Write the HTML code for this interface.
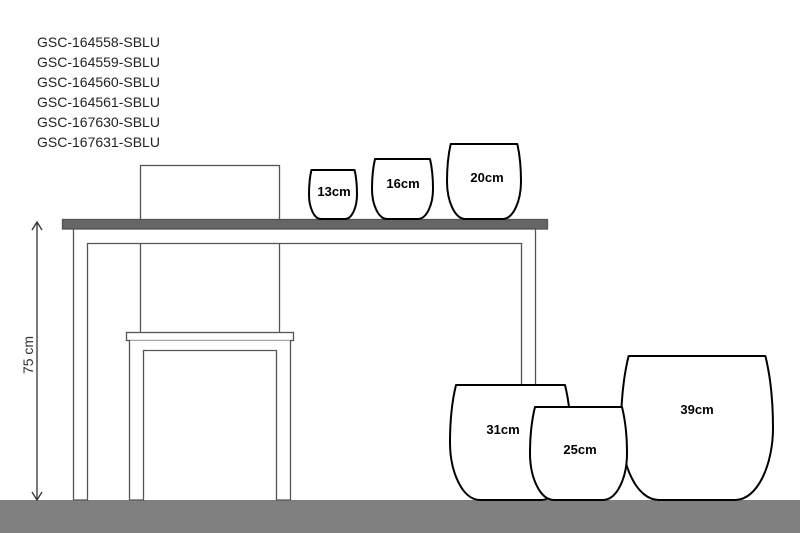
<!DOCTYPE html>
<html><head><meta charset="utf-8"><style>
html,body{margin:0;padding:0;background:#fff;width:800px;height:533px;overflow:hidden}
</style></head><body>
<svg width="800" height="533" viewBox="0 0 800 533" xmlns="http://www.w3.org/2000/svg" font-family="Liberation Sans, sans-serif">
<rect width="800" height="533" fill="#fff"/>
<g font-size="14" fill="#222">
<text x="37" y="47">GSC-164558-SBLU</text>
<text x="37" y="67">GSC-164559-SBLU</text>
<text x="37" y="87">GSC-164560-SBLU</text>
<text x="37" y="107">GSC-164561-SBLU</text>
<text x="37" y="127">GSC-167630-SBLU</text>
<text x="37" y="147">GSC-167631-SBLU</text>
</g>
<rect x="0" y="500" width="800" height="33" fill="#808080"/>
<g stroke="#333" stroke-width="1.3" fill="none">
<line x1="37" y1="223" x2="37" y2="499"/>
<polyline points="32,230 37,222 42,230"/>
<polyline points="32,492 37,500 42,492"/>
</g>
<text transform="translate(33,355) rotate(-90)" text-anchor="middle" font-size="14" fill="#333">75 cm</text>
<g stroke="#555" stroke-width="1.3" fill="#fff">
<rect x="140.5" y="165.5" width="139" height="168"/>
<polyline points="73.5,229 73.5,500 87.5,500 87.5,243.5 521.5,243.5 521.5,400 535.5,400 535.5,229" />
<rect x="126.5" y="332.5" width="167" height="8"/>
<polyline points="129.5,340.5 129.5,500 143.5,500 143.5,350.5 276.5,350.5 276.5,500 290.5,500 290.5,340.5"/>
<rect x="62.5" y="219.5" width="485" height="9.5" fill="#666"/>
</g>
<g stroke="#000" stroke-width="2" fill="#fff" stroke-linejoin="round">
<path d="M311.4,170 H354.6 C356.3,177.4 357,184.7 357,194.5 C357,206.8 352.2,219 345,219 H321 C313.8,219 309,206.8 309,194.5 C309,184.7 309.7,177.4 311.4,170Z"/>
<path d="M375,159 H430 C432.1,168 433,177 433,189 C433,204 426.9,219 417.8,219 H387.2 C378.1,219 372,204 372,189 C372,177 372.9,168 375,159Z"/>
<path d="M450.7,144 H517.3 C519.9,155.3 521,166.5 521,181.5 C521,200.3 513.6,219 502.5,219 H465.5 C454.4,219 447,200.3 447,181.5 C447,166.5 448.1,155.3 450.7,144Z"/>
<path d="M628.6,356 H765.4 C770.7,377.6 773,399.2 773,428 C773,464 757.8,500 735,500 H659 C636.2,500 621,464 621,428 C621,399.2 623.3,377.6 628.6,356Z"/>
<path d="M456,385 H565 C569.2,402 571,419.5 571,442.5 C571,471 559,500 541,500 H480 C462,500 450,471 450,442.5 C450,419.5 451.8,402 456,385Z"/>
<path d="M535,407 H622 C625.5,421 627,435 627,453.5 C627,476.8 617.3,500 603,500 H554 C539.7,500 530,476.8 530,453.5 C530,435 531.5,421 535,407Z"/>
</g>
<g font-size="13" font-weight="bold" fill="#000" text-anchor="middle">
<text x="334" y="196">13cm</text>
<text x="403" y="188">16cm</text>
<text x="487" y="182">20cm</text>
<text x="503" y="434">31cm</text>
<text x="580" y="454">25cm</text>
<text x="697" y="414">39cm</text>
</g>
</svg>
</body></html>
